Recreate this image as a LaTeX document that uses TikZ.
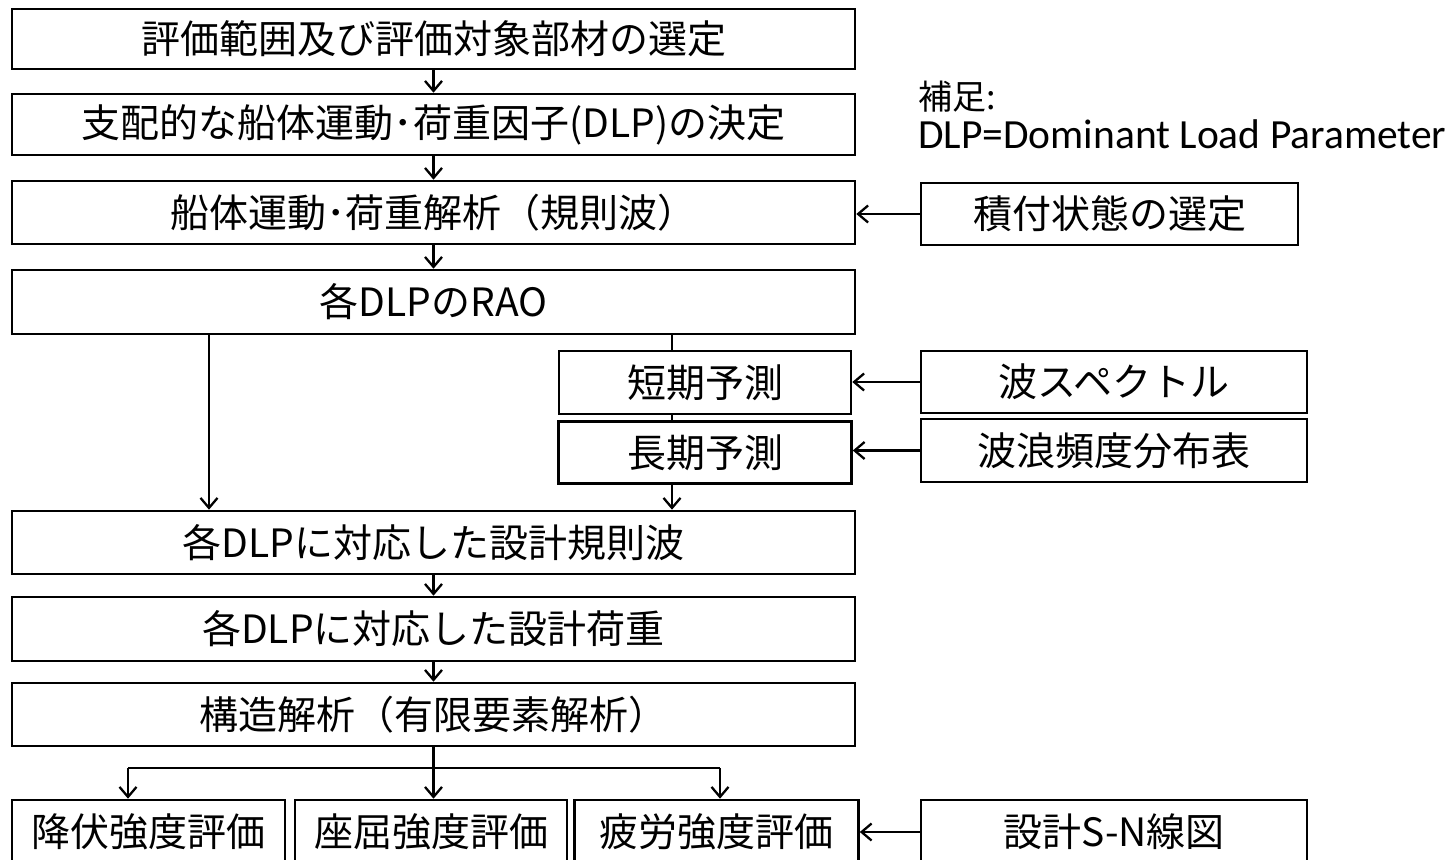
\documentclass[tikz,border=0pt]{standalone}
\usepackage{fontspec}
\setmainfont{Noto Sans CJK JP}
\newfontfamily\latinfont{Carlito}
\usetikzlibrary{arrows.meta}
\begin{document}
\begin{tikzpicture}[x=1pt,y=-1pt,
  box/.style 2 args={draw,line width=2.6pt,minimum width=#1,minimum height=#2,inner sep=0pt,font=\fontsize{39}{41}\selectfont,anchor=center},
  conn/.style={line width=2.3pt},
  arr/.style={conn,-{Straight Barb[length=10pt,width=17pt,line width=2.3pt]}},
]
\useasboundingbox (0,0) rectangle (1447,859);
\clip (0,0) rectangle (1447,859);
\fill[white] (0,0) rectangle (1447,859);

% main column
\node[box={843}{60}] (b1) at (433.5,39) {評価範囲及び評価対象部材の選定};
\node[box={843}{61}] (b2) at (433.5,124.5) {支配的な船体運動･荷重因子(DLP)の決定};
\node[box={843}{63}] (b3) at (433.5,212.5) {船体運動･荷重解析（規則波）};
\node[box={843}{64}] (b4) at (433.5,302) {各DLPのRAO};
\node[box={292}{63}] (st) at (705,382.5) {短期予測};
\node[box={293}{62}] (lt) at (705,452.5) {長期予測};
\node[box={843}{63}] (b5) at (433.5,542.5) {各DLPに対応した設計規則波};
\node[box={843}{64}] (b6) at (433.5,629) {各DLPに対応した設計荷重};
\node[box={843}{63}] (b7) at (433.5,714.5) {構造解析（有限要素解析）};
\node[box={273}{64}] (y1) at (148.5,832) {降伏強度評価};
\node[box={272}{64}] (y2) at (431,832) {座屈強度評価};
\node[box={284}{64}] (y3) at (716.5,832) {疲労強度評価};

% right column
\node[box={377}{62}] (ld) at (1109.5,214) {積付状態の選定};
\node[box={386}{62}] (ws) at (1114,382) {波スペクトル};
\node[box={386}{63}] (wf) at (1114,450.5) {波浪頻度分布表};
\node[box={386}{64}] (sn) at (1114,832) {設計S-N線図};

% note
\node[anchor=west,inner sep=0pt,font=\fontsize{34}{36}\selectfont] (note1) at (918,97) {補足:};
\node[anchor=west,inner sep=0pt,font=\latinfont\fontsize{41.5}{43}\selectfont] (note2) at (918,134) {DLP=Dominant Load Parameter};

% connectors
\draw[arr] (b1) -- (b2);
\draw[arr] (b2) -- (b3);
\draw[arr] (b3) -- (b4);
\coordinate (jx) at (672,0);
\draw[conn] (b4.south -| jx) -- (st.north -| jx);
\draw[conn] (st.south -| jx) -- (lt.north -| jx);
\draw[arr] (lt.south -| jx) -- (b5.north -| jx);
\coordinate (lx) at (209,0);
\draw[arr] (b4.south -| lx) -- (b5.north -| lx);
\draw[arr] (b5) -- (b6);
\draw[arr] (b6) -- (b7);
\draw[arr] (ld.west) -- (ld.west -| b3.east);
\draw[arr] (ws.west) -- (ws.west -| st.east);
\draw[arr] (wf.west) -- (wf.west -| lt.east);
\draw[arr] (sn.west) -- (sn.west -| y3.east);
\coordinate (sL) at (128,768);
\coordinate (sR) at (720,768);
\draw[conn] (b7.south) -- (b7.south |- sL);
\draw[conn] (sL) -- (sR);
\draw[arr] (sL) -- (sL |- y1.north);
\draw[arr] (b7.south |- sL) -- (b7.south |- y2.north);
\draw[arr] (sR) -- (sR |- y3.north);
\end{tikzpicture}
\end{document}
